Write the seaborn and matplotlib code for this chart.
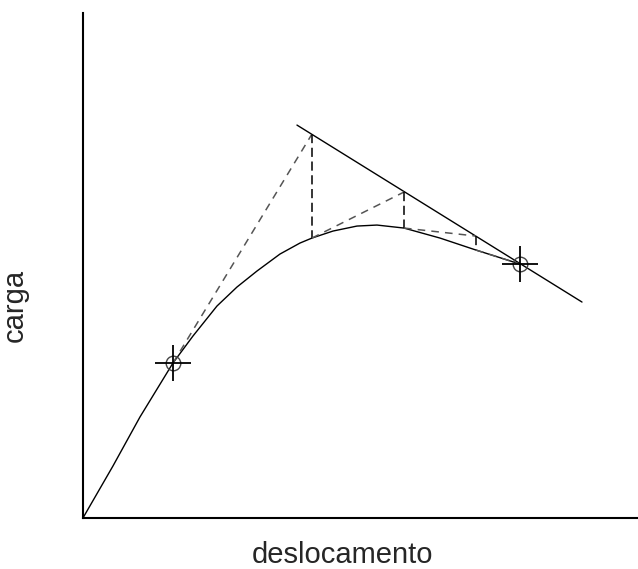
import numpy as np
import pandas as pd
import matplotlib
matplotlib.use("Agg")
import matplotlib.pyplot as plt
import seaborn as sns

# load-displacement curve (arbitrary units)
curve_x = [0, 30, 57, 90, 110, 134, 154, 174, 197, 217, 229, 250, 274, 294, 321, 357, 393, 437]
curve_y = [0, 52, 101, 155, 182, 212, 231, 247, 264, 275, 280, 287, 292, 293, 290, 280, 268, 254]

# straight line through the final point
line_x = [214, 499]
line_y = [393, 216]

# marked points (start and end of the iteration)
mark_x = [90, 437]
mark_y = [155, 254]

# iteration steps: curve point -> point on the line, then back down to the curve
step_x = [229, 321, 393]
step_top = [384, 326, 282]
step_bot = [280, 290, 268]

sns.set_style("white")
plt.rcParams["font.family"] = ["Liberation Sans", "DejaVu Sans"]

fig = plt.figure(figsize=(6.38, 5.69), dpi=100)
ax = fig.add_axes([0.130, 0.0896, 0.870, 0.8874])

df_curve = pd.DataFrame({"x": curve_x, "y": curve_y})
sns.lineplot(data=df_curve, x="x", y="y", sort=False, color="black", lw=1.0, ax=ax)
sns.lineplot(x=line_x, y=line_y, color="black", lw=1.0, ax=ax)

# dashed chords from the curve to the line
starts_x = [mark_x[0]] + step_x[:-1]
starts_y = [mark_y[0]] + step_bot[:-1]
for k in range(len(step_x)):
    ax.plot([starts_x[k], step_x[k]], [starts_y[k], step_top[k]],
            ls=(0, (5, 4)), color="#555555", lw=1.1)
    ax.plot([step_x[k], step_x[k]], [step_top[k], step_bot[k]],
            ls=(0, (6, 3)), color="black", lw=1.1)
ax.plot([step_x[-1], mark_x[1]], [step_bot[-1], mark_y[1]],
        ls=(0, (5, 4)), color="#555555", lw=1.1)

ax.plot(mark_x, mark_y, "o", ms=10.5, mfc="none", mec="#444444", mew=1.0)
ax.plot(mark_x, mark_y, "+", ms=26, color="black", mew=1.3)

ax.set_xlim(0, 555)
ax.set_ylim(0, 505)
ax.set_xticks([])
ax.set_yticks([])
sns.despine(ax=ax)
for s in ["left", "bottom"]:
    ax.spines[s].set_linewidth(1.5)
    ax.spines[s].set_color("black")

ax.set_xlabel("deslocamento", fontsize=21)
ax.set_ylabel("carga", fontsize=21)
ax.xaxis.set_label_coords((343 - 83) / 555, -0.045)
ax.yaxis.set_label_coords(-(83 - 29) / 555, (518 - 305) / 505)

fig.savefig("out.png", dpi=100)
